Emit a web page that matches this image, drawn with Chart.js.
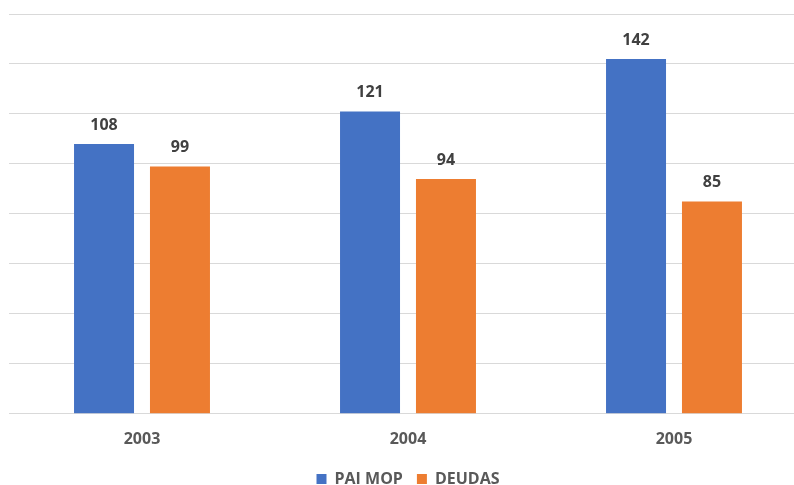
<!DOCTYPE html>
<html>
<head>
<meta charset="utf-8">
<script src="https://cdn.jsdelivr.net/npm/chart.js@4/dist/chart.umd.min.js"></script>
<style>
  html, body { margin: 0; padding: 0; width: 794px; height: 485px; overflow: hidden; background: #fff; }
  #wrap { position: absolute; left: 0; top: 0; width: 807px; height: 497px; }
</style>
</head>
<body>
<div id="wrap"><canvas id="chart"></canvas></div>
<script>
const years = ['2003', '2004', '2005'];
const paiMop = [108, 121, 142];
const deudas = [99, 94, 85];

const blue = '#4472C4';
const orange = '#ED7D31';
const grey = '#595959';

// value labels above each bar
const barLabels = {
  id: 'barLabels',
  afterDatasetsDraw(chart) {
    const ctx = chart.ctx;
    ctx.save();
    ctx.font = "bold 16px 'Open Sans', sans-serif";
    ctx.fillStyle = '#404040';
    ctx.textAlign = 'center';
    ctx.textBaseline = 'alphabetic';
    chart.data.datasets.forEach((ds, i) => {
      chart.getDatasetMeta(i).data.forEach((bar, j) => {
        ctx.fillText(ds.data[j], bar.x, bar.y - 14);
      });
    });
    ctx.restore();
  }
};

new Chart(document.getElementById('chart'), {
  type: 'bar',
  data: {
    labels: years,
    datasets: [
      { label: 'PAI MOP', data: paiMop, backgroundColor: blue },
      { label: 'DEUDAS', data: deudas, backgroundColor: orange }
    ]
  },
  options: {
    responsive: true,
    maintainAspectRatio: false,
    animation: false,
    categoryPercentage: 0.571,
    barPercentage: 0.79,
    layout: { padding: { top: 14, left: 9, right: 0, bottom: 0 } },
    plugins: {
      legend: {
        position: 'bottom',
        labels: {
          boxWidth: 10,
          boxHeight: 10,
          padding: 14,
          color: grey,
          font: { family: "'Open Sans', sans-serif", size: 16, weight: 'bold' }
        }
      },
      tooltip: { enabled: false }
    },
    scales: {
      x: {
        grid: { display: false },
        border: { display: true, color: '#d9d9d9', width: 1 },
        ticks: {
          color: grey,
          padding: 8,
          font: { family: "'Open Sans', sans-serif", size: 16, weight: 'bold' }
        }
      },
      y: {
        min: 0,
        max: 160,
        ticks: { display: false, stepSize: 20 },
        grid: { color: '#d9d9d9', drawTicks: false },
        border: { display: false }
      }
    }
  },
  plugins: [barLabels]
});
</script>
</body>
</html>
